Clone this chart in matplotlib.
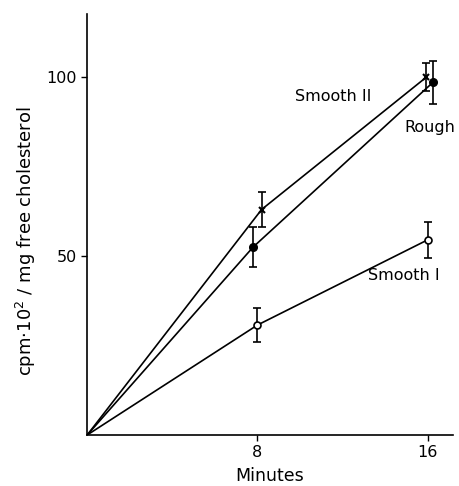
import matplotlib.pyplot as plt

# time points (minutes); small offsets at 8/16 as drawn in the original figure
smooth2_x = [0, 8.2, 15.95]
smooth2_y = [0, 63, 100]
smooth2_err = [0, 4.8, 4]

rough_x = [0, 7.8, 16.25]
rough_y = [0, 52.5, 98.5]
rough_err = [0, 5.7, 6]

smooth1_x = [0, 8, 16]
smooth1_y = [0, 30.7, 54.5]
smooth1_err = [0, 4.8, 5]

fig = plt.figure(figsize=(4.59, 4.86), dpi=100)
ax = fig.add_axes([0.19, 0.105, 0.797, 0.866])

kw = dict(color='black', lw=1.2, capsize=3, elinewidth=1.2, capthick=1.2)
ax.errorbar(smooth2_x[1:], smooth2_y[1:], yerr=smooth2_err[1:], fmt='none', **kw)
ax.errorbar(rough_x[1:], rough_y[1:], yerr=rough_err[1:], fmt='none', **kw)
ax.errorbar(smooth1_x[1:], smooth1_y[1:], yerr=smooth1_err[1:], fmt='none', **kw)

ax.plot(smooth2_x, smooth2_y, color='black', lw=1.2)
ax.plot(smooth2_x[1:], smooth2_y[1:], 'x', color='black', ms=5, mew=1.5)
ax.plot(rough_x, rough_y, color='black', lw=1.2)
ax.plot(rough_x[1:], rough_y[1:], 'o', color='black', ms=5.5)
ax.plot(smooth1_x, smooth1_y, color='black', lw=1.2)
ax.plot(smooth1_x[1:], smooth1_y[1:], 'o', mfc='white', mec='black', ms=5, mew=1.2)

ax.text(13.35, 94.7, 'Smooth II', fontsize=11.5, ha='right', va='center')
ax.text(14.9, 85.8, 'Rough', fontsize=11.5, ha='left', va='center')
ax.text(13.2, 44.5, 'Smooth I', fontsize=11.5, ha='left', va='center')

ax.set_xlim(0, 17.2)
ax.set_ylim(0, 117.6)
ax.set_xticks([8, 16])
ax.set_yticks([50, 100])
ax.tick_params(labelsize=11.5, length=4, width=1)
ax.set_xlabel('Minutes', fontsize=12.5, labelpad=5)
ax.set_ylabel('cpm$\\cdot$10$^2$ / mg free cholesterol', fontsize=13)
ax.yaxis.set_label_coords(-0.135, 0.46)

for s in ['top', 'right']:
    ax.spines[s].set_visible(False)
for s in ['left', 'bottom']:
    ax.spines[s].set_linewidth(1.2)

fig.savefig('out.png', dpi=100)
